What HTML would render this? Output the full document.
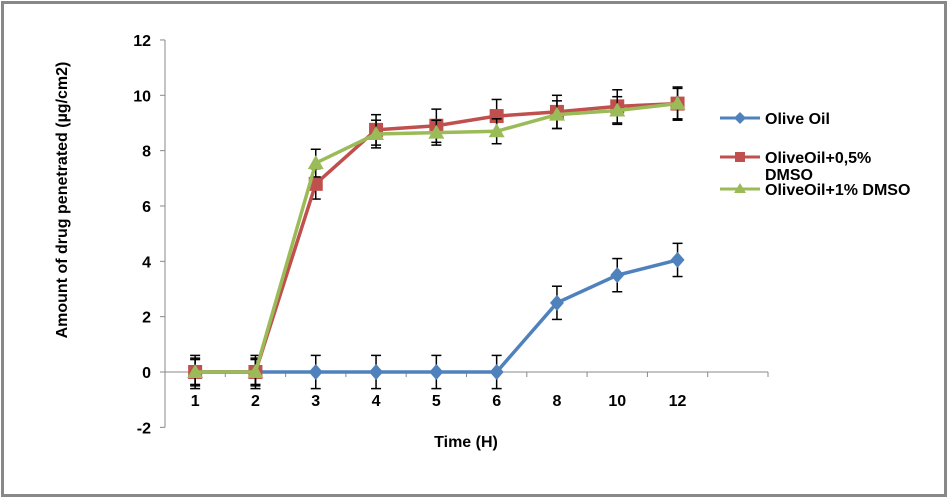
<!DOCTYPE html>
<html><head><meta charset="utf-8"><style>
body{margin:0;background:#fff;}
svg{display:block;font-family:"Liberation Sans",Arial,sans-serif;font-weight:bold;}
</style></head><body>
<svg id="chart" width="949" height="499" viewBox="0 0 949 499">
<rect x="2.5" y="2.5" width="943" height="493" fill="#fff" stroke="#888" stroke-width="3"/>
<g id="plot"></g>
<text x="466" y="447" font-size="16" text-anchor="middle">Time (H)</text>
<text transform="translate(67,200) rotate(-90)" font-size="16" text-anchor="middle">Amount of drug penetrated (µg/cm2)</text>
<g>
<line x1="720" y1="118" x2="760" y2="118" stroke="#4f81bd" stroke-width="3"/>
<path d="M740 112 L746 118 L740 124 L734 118Z" fill="#4f81bd"/>
<text x="765" y="124" font-size="16">Olive Oil</text>
<line x1="720" y1="157" x2="760" y2="157" stroke="#c0504d" stroke-width="3"/>
<rect x="735" y="152" width="10" height="10" fill="#c0504d"/>
<text x="765" y="163" font-size="16">OliveOil+0,5%</text>
<text x="765" y="180" font-size="16">DMSO</text>
<line x1="720" y1="189" x2="760" y2="189" stroke="#9bbb59" stroke-width="3"/>
<path d="M740 183 L746 193 L734 193Z" fill="#9bbb59"/>
<text x="765" y="195" font-size="16">OliveOil+1% DMSO</text>
</g>
</svg>
<script>
const categories=["1","2","3","4","5","6","8","10","12"];
const oliveOil=[0,0,0,0,0,0,2.5,3.5,4.05];
const oliveDmso05=[0,0,6.8,8.75,8.9,9.25,9.4,9.6,9.7];
const oliveDmso1=[0,0,7.55,8.6,8.65,8.7,9.3,9.45,9.7];
const errOlive=[0.6,0.6,0.6,0.6,0.6,0.6,0.6,0.6,0.6];
const errDmso05=[0.5,0.5,0.55,0.55,0.6,0.6,0.6,0.6,0.6];
const errDmso1=[0.45,0.45,0.5,0.5,0.45,0.45,0.5,0.5,0.55];
const yTicks=[-2,0,2,4,6,8,10,12];
const NS="http://www.w3.org/2000/svg";
const g=document.getElementById('plot');
const x0=165,slot=60.3,nSlots=10;
function xs(i){return x0+slot*(i+0.5);}
function ys(v){return 372-v*27.67;}
function mk(t,a){const e=document.createElementNS(NS,t);for(const k in a)e.setAttribute(k,a[k]);g.appendChild(e);return e;}
let e=mk('line',{x1:x0,y1:ys(12),x2:x0,y2:ys(-2),stroke:'#888'});


yTicks.forEach(v=>{mk('line',{x1:x0-5,y1:ys(v),x2:x0,y2:ys(v),stroke:'#888'});
const t=mk('text',{x:x0-14,y:ys(v)+6,'font-size':16,'text-anchor':'end'});t.textContent=v;

});
e=mk('line',{x1:x0,y1:ys(0),x2:x0+slot*nSlots,y2:ys(0),stroke:'#888'});


for(let i=0;i<=nSlots;i++)mk('line',{x1:x0+slot*i,y1:ys(0),x2:x0+slot*i,y2:ys(0)+5,stroke:'#888'});
categories.forEach((c,i)=>{const t=mk('text',{x:xs(i),y:ys(0)+34,'font-size':16,'text-anchor':'middle'});t.textContent=c;

});
function series(vals,errs,color,shape,name){
vals.forEach((v,i)=>{const x=xs(i);const a=ys(v+errs[i]),b=ys(v-errs[i]);
mk('line',{x1:x,y1:a,x2:x,y2:b,stroke:'#000','stroke-width':1.5});
mk('line',{x1:x-5,y1:a,x2:x+5,y2:a,stroke:'#000','stroke-width':1.5});
mk('line',{x1:x-5,y1:b,x2:x+5,y2:b,stroke:'#000','stroke-width':1.5});});
const l=mk('polyline',{points:vals.map((v,i)=>xs(i)+','+ys(v)).join(' '),fill:'none',stroke:color,'stroke-width':3.5});


vals.forEach((v,i)=>{const x=xs(i),y=ys(v);let m;
if(shape==='d')m=mk('path',{d:`M${x} ${y-8}L${x+7} ${y}L${x} ${y+8}L${x-7} ${y}Z`,fill:color});
else if(shape==='s')m=mk('rect',{x:x-7,y:y-7,width:14,height:14,fill:color});
else m=mk('path',{d:`M${x} ${y-8}L${x+8} ${y+6}L${x-8} ${y+6}Z`,fill:color});

});
}
series(oliveOil,errOlive,'#4f81bd','d','olive-oil');
series(oliveDmso05,errDmso05,'#c0504d','s','olive-oil-05-dmso');
series(oliveDmso1,errDmso1,'#9bbb59','t','olive-oil-1-dmso');
</script>
</body></html>
